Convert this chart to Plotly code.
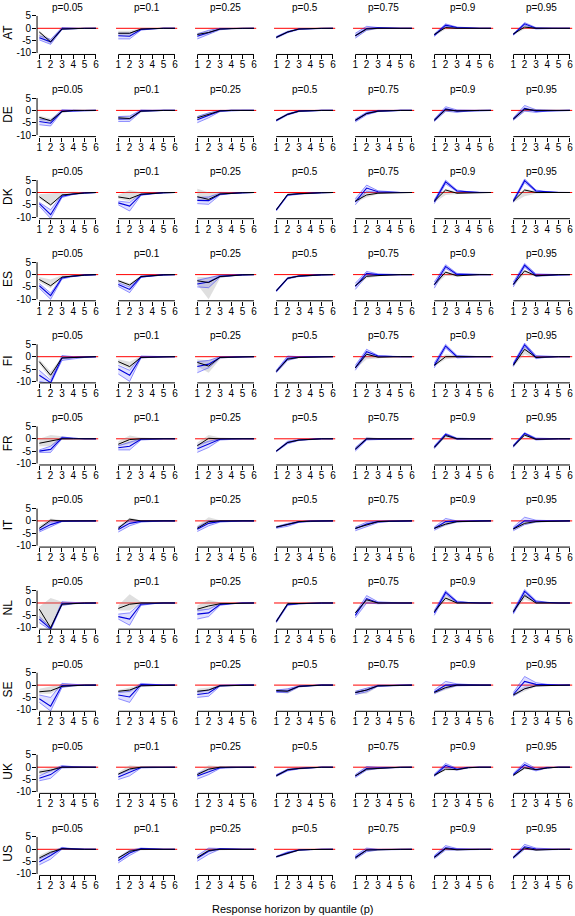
import plotly.graph_objects as go

# ---------------- data ----------------
countries = ["AT", "DE", "DK", "ES", "FI", "FR", "IT", "NL", "SE", "UK", "US"]
quantile_labels = ["p=0.05", "p=0.1", "p=0.25", "p=0.5", "p=0.75", "p=0.9", "p=0.95"]
horizons = [1, 2, 3, 4, 5, 6]
x_tick_vals = [1, 2, 3, 4, 5, 6]
y_tick_vals = [-10, -5, 0, 5]
y_tick_text = ["-10", "-5", "0", "5"]
x_title = "Response horizon by quantile (p)"

AT_black = [[-1.5,-5.5,-0.3,0,0,0],[-2.0,-2.0,-0.3,0,0,0],[-2.5,-1.7,-0.3,0,0,0],[-3.7,-1.5,-0.3,0,0,0],[-3.0,-0.3,0,0,0,0],[-2.5,0.3,0,0,0,0],[-2.3,0.5,0,0,0,0]]
AT_gray_lo = [[-3.5,-6.5,-0.8,-0.3,-0.1,-0.1],[-3.0,-3.0,-0.7,-0.2,-0.1,-0.1],[-3.2,-2.5,-0.6,-0.2,-0.1,-0.1],[-4.0,-1.9,-0.5,-0.2,-0.1,-0.1],[-3.6,-1.0,-0.4,-0.2,-0.1,-0.1],[-3.0,-0.5,-0.3,-0.2,-0.1,-0.1],[-2.8,-0.3,-0.3,-0.2,-0.1,-0.1]]
AT_gray_hi = [[-1.0,-4.5,0.4,0.2,0.1,0.1],[-1.0,-1.0,0.0,0.1,0.1,0.1],[-1.8,-0.9,0.0,0.1,0.1,0.1],[-3.3,-1.1,-0.1,0.1,0.1,0.1],[-2.4,0.3,0.3,0.1,0.1,0.1],[-2.0,1.0,0.3,0.1,0.1,0.1],[-1.8,1.2,0.3,0.1,0.1,0.1]]
AT_blue_lo = [[-4.7,-6.5,-0.5,-0.2,0,0],[-4.3,-4.3,-0.8,-0.2,0,0],[-4.3,-2.5,-0.6,-0.2,0,0],[-4.0,-1.8,-0.5,-0.2,0,0],[-4.0,-0.8,0.0,0,0,0],[-3.3,0.8,0.0,0,0,0],[-2.8,1.3,-0.3,0,0,0]]
AT_blue_mid = [[-3.8,-5.5,-0.2,-0.1,0,0],[-3.0,-3.2,-0.5,-0.1,0,0],[-3.2,-1.6,-0.3,-0.1,0,0],[-3.6,-1.5,-0.3,-0.1,0,0],[-3.0,-0.1,0.2,0,0,0],[-2.8,1.3,0.3,0.1,0,0],[-2.5,1.8,0.0,0,0,0]]
AT_blue_hi = [[-3.0,-4.5,0.3,0,0,0],[-2.0,-2.0,-0.3,0,0,0],[-2.3,-0.8,0.0,0,0,0],[-3.3,-1.2,-0.2,0,0,0],[-2.0,0.8,0.3,0.1,0,0],[-2.3,1.8,0.5,0.1,0,0],[-2.3,2.3,0.3,0.1,0,0]]

DE_black = [[-2.8,-4.2,-0.5,0,0,0],[-3.0,-3.3,-0.3,0,0,0],[-3.0,-1.5,-0.2,0,0,0],[-4.0,-1.6,-0.3,0,0,0],[-4.0,-1.3,-0.3,0,0,0],[-4.0,0.3,-0.2,0,0,0],[-3.5,0.5,0.0,0,0,0]]
DE_gray_lo = [[-4.0,-5.0,-1.0,-0.3,-0.1,-0.1],[-3.8,-4.0,-0.8,-0.2,-0.1,-0.1],[-3.8,-2.3,-0.6,-0.2,-0.1,-0.1],[-4.4,-2.0,-0.6,-0.2,-0.1,-0.1],[-4.6,-1.8,-0.6,-0.2,-0.1,-0.1],[-4.6,-0.5,-0.6,-0.2,-0.1,-0.1],[-4.2,-0.3,-0.5,-0.2,-0.1,-0.1]]
DE_gray_hi = [[-2.2,-3.3,0.0,0.1,0.1,0.1],[-2.3,-2.5,0.1,0.1,0.1,0.1],[-2.3,-0.8,0.1,0.1,0.1,0.1],[-3.6,-1.2,0.0,0.1,0.1,0.1],[-3.4,-0.8,0.0,0.1,0.1,0.1],[-3.4,1.0,0.2,0.1,0.1,0.1],[-2.9,1.2,0.4,0.1,0.1,0.1]]
DE_blue_lo = [[-5.8,-6.3,-0.6,-0.2,0,0],[-4.5,-4.5,-0.5,-0.1,0,0],[-5.0,-3.0,-0.5,-0.1,0,0],[-4.4,-1.9,-0.5,-0.1,0,0],[-4.7,-1.8,-0.5,-0.1,0,0],[-4.5,-0.3,-0.8,-0.2,0,0],[-4.0,-0.3,-0.8,-0.2,0,0]]
DE_blue_mid = [[-4.5,-5.2,-0.3,-0.1,0,0],[-3.5,-3.4,-0.2,0,0,0],[-3.8,-2.0,-0.2,0,0,0],[-4.1,-1.6,-0.3,0,0,0],[-4.1,-1.2,-0.3,0,0,0],[-4.0,0.6,-0.3,-0.1,0,0],[-3.5,0.8,-0.3,-0.1,0,0]]
DE_blue_hi = [[-3.5,-4.0,0.3,0,0,0],[-2.5,-2.3,0.2,0,0,0],[-2.5,-1.0,0.0,0,0,0],[-3.8,-1.3,-0.1,0,0,0],[-3.5,-0.7,0.0,0,0,0],[-3.5,1.5,0.2,0.1,0,0],[-3.0,2.0,0.3,0.1,0,0]]

DK_black = [[-1.7,-5.0,-1.0,-0.5,-0.2,0],[-1.8,-2.5,-0.7,-0.3,-0.1,0],[-1.7,-2.8,-0.6,-0.2,-0.1,0],[-7.0,-0.8,-0.5,-0.2,-0.1,0],[-3.5,-1.0,-0.3,-0.1,0,0],[-3.5,1.0,-0.3,-0.1,0,0],[-3.5,1.0,0.0,0,0,0]]
DK_gray_lo = [[-2.5,-5.5,-1.5,-0.8,-0.3,-0.1],[-2.5,-3.5,-1.0,-0.5,-0.2,-0.1],[-3.0,-3.5,-1.0,-0.4,-0.2,-0.1],[-7.3,-1.2,-0.7,-0.3,-0.2,-0.1],[-4.0,-2.0,-0.7,-0.3,-0.1,-0.1],[-4.0,-1.0,-0.7,-0.3,-0.1,-0.1],[-4.0,-1.5,-0.5,-0.3,-0.1,-0.1]]
DK_gray_hi = [[-0.7,-0.5,0.0,0.3,0.1,0.1],[-1.0,1.0,0.0,0.2,0.1,0.1],[1.5,0.0,0.3,0.2,0.1,0.1],[-6.7,-0.4,-0.3,0.0,0.1,0.1],[-2.5,0.3,0.3,0.2,0.1,0.1],[-2.5,1.5,0.2,0.2,0.1,0.1],[-2.5,1.5,0.5,0.2,0.1,0.1]]
DK_blue_lo = [[-5.5,-10.5,-2.0,-0.8,-0.3,-0.1],[-5.0,-7.5,-1.2,-0.5,-0.2,0],[-4.5,-4.8,-1.0,-0.4,-0.2,0],[-7.5,-1.3,-0.7,-0.3,-0.1,0],[-5.0,0.5,0.0,0,0,0],[-4.5,3.5,0.3,0,0,0],[-4.0,4.0,0.3,0,0,0]]
DK_blue_mid = [[-4.5,-9.0,-1.5,-0.6,-0.2,0],[-4.2,-5.5,-0.9,-0.4,-0.1,0],[-3.2,-3.3,-0.7,-0.3,-0.1,0],[-7.1,-1.0,-0.5,-0.2,-0.1,0],[-3.8,1.8,0.3,0.1,0,0],[-3.7,4.3,0.6,0.2,0,0],[-3.5,4.8,0.6,0.2,0,0]]
DK_blue_hi = [[-4.0,-7.0,-1.0,-0.4,-0.1,0],[-3.5,-4.0,-0.5,-0.2,0,0],[-2.0,-1.8,-0.3,-0.1,0,0],[-6.7,-0.8,-0.4,-0.1,0,0],[-2.5,3.0,0.7,0.2,0,0],[-3.0,5.0,1.0,0.3,0.1,0],[-3.0,5.5,1.0,0.3,0.1,0]]

ES_black = [[-2.0,-4.5,-1.0,-0.5,-0.2,0],[-2.5,-4.2,-0.8,-0.3,-0.1,0],[-2.5,-3.2,-0.8,-0.3,-0.1,0],[-6.5,-1.5,-0.6,-0.2,-0.1,0],[-4.5,-0.7,-0.4,-0.1,0,0],[-4.0,1.0,-0.5,-0.1,0,0],[-4.0,1.5,-0.5,-0.1,0,0]]
ES_gray_lo = [[-3.0,-5.5,-1.5,-0.7,-0.3,-0.1],[-3.0,-4.8,-1.1,-0.5,-0.2,-0.1],[-4.0,-10.0,-1.5,-0.5,-0.2,-0.1],[-6.8,-1.8,-0.8,-0.3,-0.1,-0.1],[-5.0,-1.5,-0.8,-0.3,-0.1,-0.1],[-4.5,-0.5,-0.8,-0.3,-0.1,-0.1],[-4.5,0.0,-0.8,-0.3,-0.1,-0.1]]
ES_gray_hi = [[-1.0,-2.0,-0.3,0.0,0.1,0.1],[-2.0,-3.5,-0.4,0.0,0.1,0.1],[-1.0,-1.0,0.0,0.1,0.1,0.1],[-6.2,-1.2,-0.4,0.0,0.1,0.1],[-4.0,0.0,0.0,0.1,0.1,0.1],[-3.5,1.5,-0.1,0.1,0.1,0.1],[-3.5,2.0,-0.2,0.1,0.1,0.1]]
ES_blue_lo = [[-5.5,-10.0,-1.8,-0.8,-0.3,-0.1],[-4.8,-7.3,-1.2,-0.5,-0.2,0],[-5.0,-5.3,-1.0,-0.4,-0.1,0],[-7.0,-1.8,-0.8,-0.3,-0.1,0],[-6.0,-0.5,-0.2,-0.1,0,0],[-5.5,2.5,-0.3,-0.1,0,0],[-5.0,3.0,-0.8,-0.3,-0.1,0]]
ES_blue_mid = [[-4.5,-8.5,-1.4,-0.6,-0.2,0],[-4.0,-6.0,-0.9,-0.4,-0.1,0],[-3.8,-3.0,-0.7,-0.3,-0.1,0],[-6.6,-1.5,-0.6,-0.2,-0.1,0],[-4.8,0.5,0.0,0,0,0],[-4.2,3.3,0.1,0,0,0],[-4.0,3.8,-0.3,-0.1,0,0]]
ES_blue_hi = [[-3.6,-7.5,-1.0,-0.4,-0.1,0],[-3.3,-5.0,-0.5,-0.2,0,0],[-2.3,-1.3,-0.3,-0.1,0,0],[-6.3,-1.2,-0.4,-0.1,0,0],[-3.5,1.3,0.3,0.1,0,0],[-3.0,4.0,0.5,0.1,0,0],[-3.0,4.5,0.3,0.1,0,0]]

FI_black = [[-2.0,-7.5,-0.5,-0.3,-0.1,0],[-2.0,-4.0,-0.3,-0.1,0,0],[-2.3,-3.8,-0.3,-0.1,0,0],[-6.0,-1.0,-0.3,-0.1,0,0],[-4.5,1.0,-0.2,0,0,0],[-3.5,0.0,0.0,0,0,0],[-3.5,3.0,-0.3,0,0,0]]
FI_gray_lo = [[-3.0,-9.0,-1.0,-0.5,-0.2,-0.1],[-3.0,-5.0,-0.8,-0.3,-0.1,-0.1],[-4.0,-6.5,-1.0,-0.3,-0.1,-0.1],[-6.5,-1.5,-0.6,-0.2,-0.1,-0.1],[-5.0,-1.0,-0.7,-0.2,-0.1,-0.1],[-4.0,-1.0,-0.5,-0.2,-0.1,-0.1],[-4.0,1.0,-0.8,-0.2,-0.1,-0.1]]
FI_gray_hi = [[-1.0,-6.0,0.0,0.0,0.1,0.1],[-1.0,-2.0,0.2,0.1,0.1,0.1],[-1.0,-1.5,0.0,0.1,0.1,0.1],[-5.5,-0.5,0.0,0.1,0.1,0.1],[-4.0,1.5,0.3,0.1,0.1,0.1],[-2.5,1.0,0.5,0.2,0.1,0.1],[-3.0,4.0,0.3,0.2,0.1,0.1]]
FI_blue_lo = [[-10.0,-11.0,-1.5,-0.8,-0.3,-0.1],[-7.0,-10.0,-0.5,-0.2,0,0],[-6.5,-4.5,-0.5,-0.2,0,0],[-6.5,-1.5,-0.3,-0.1,0,0],[-5.5,1.0,0.0,0,0,0],[-4.5,3.5,-0.5,-0.1,0,0],[-4.0,4.0,-0.8,-0.2,0,0]]
FI_blue_mid = [[-7.5,-10.5,-0.5,-0.4,-0.1,0],[-5.0,-7.5,-0.2,-0.1,0,0],[-4.0,-3.0,-0.3,-0.1,0,0],[-6.0,-0.6,-0.2,0,0,0],[-4.5,2.0,0.3,0.1,0,0],[-3.5,4.3,0.0,0,0,0],[-3.2,4.8,-0.2,0,0,0]]
FI_blue_hi = [[-5.5,-9.5,0.5,0,0,0],[-3.5,-5.5,0.3,0.1,0,0],[-2.0,-1.5,0.0,0,0,0],[-5.5,0.3,0.0,0,0,0],[-3.5,3.0,0.5,0.2,0,0],[-2.5,5.0,0.5,0.2,0,0],[-2.5,5.5,0.5,0.2,0,0]]

FR_black = [[-1.8,-1.0,0.0,0,0,0],[-2.2,-0.3,0.0,0,0,0],[-2.8,0.2,0.0,0,0,0],[-5.0,-1.5,-0.5,-0.2,0,0],[-4.2,0.0,0.0,0,0,0],[-3.5,1.3,0.0,0,0,0],[-3.0,1.5,-0.2,0,0,0]]
FR_gray_lo = [[-3.0,-3.0,-0.5,-0.2,-0.1,-0.1],[-3.0,-2.0,-0.5,-0.2,-0.1,-0.1],[-3.5,-1.5,-0.5,-0.2,-0.1,-0.1],[-5.3,-1.8,-0.7,-0.3,-0.1,-0.1],[-4.7,-0.5,-0.4,-0.2,-0.1,-0.1],[-4.0,0.5,-0.4,-0.2,-0.1,-0.1],[-3.5,0.8,-0.5,-0.2,-0.1,-0.1]]
FR_gray_hi = [[0.0,1.5,1.0,0.3,0.1,0.1],[-1.0,1.3,0.5,0.2,0.1,0.1],[-1.5,1.5,0.5,0.2,0.1,0.1],[-4.7,-1.2,-0.3,0.0,0.1,0.1],[-3.7,0.8,0.3,0.1,0.1,0.1],[-3.0,2.0,0.3,0.1,0.1,0.1],[-2.5,2.2,0.2,0.1,0.1,0.1]]
FR_blue_lo = [[-5.5,-5.5,0.0,0,0,0],[-4.5,-4.5,-0.5,-0.1,0,0],[-5.5,-3.5,-0.5,-0.1,0,0],[-5.3,-2.0,-0.7,-0.2,0,0],[-5.0,-0.5,-0.3,-0.1,0,0],[-4.0,1.3,-0.3,-0.1,0,0],[-3.5,1.8,-0.5,-0.1,0,0]]
FR_blue_mid = [[-5.0,-4.3,0.4,0.1,0,0],[-3.6,-3.0,-0.2,0,0,0],[-4.0,-2.2,-0.2,0,0,0],[-5.0,-1.5,-0.5,-0.1,0,0],[-4.3,-0.1,-0.1,0,0,0],[-3.4,1.8,0.0,0,0,0],[-3.0,2.2,-0.1,0,0,0]]
FR_blue_hi = [[-4.5,-3.0,0.8,0.2,0,0],[-2.8,-1.5,0.0,0,0,0],[-2.5,-1.0,0.0,0,0,0],[-4.8,-1.0,-0.3,0,0,0],[-3.5,0.3,0.0,0,0,0],[-2.8,2.2,0.3,0.1,0,0],[-2.5,2.5,0.3,0.1,0,0]]

IT_black = [[-3.0,0.3,0.0,0,0,0],[-3.0,0.7,0.0,0,0,0],[-3.0,-0.3,0.0,0,0,0],[-2.5,-1.5,-0.3,-0.1,0,0],[-3.0,-1.5,-0.3,-0.1,0,0],[-3.0,-1.3,-0.3,-0.1,0,0],[-3.3,-1.0,-0.3,-0.1,0,0]]
IT_gray_lo = [[-3.5,-0.5,-0.3,-0.2,-0.1,-0.1],[-3.5,0.0,-0.3,-0.2,-0.1,-0.1],[-3.5,-1.0,-0.3,-0.2,-0.1,-0.1],[-2.9,-1.9,-0.5,-0.2,-0.1,-0.1],[-3.5,-2.0,-0.6,-0.2,-0.1,-0.1],[-3.5,-2.0,-0.6,-0.2,-0.1,-0.1],[-3.8,-1.7,-0.6,-0.2,-0.1,-0.1]]
IT_gray_hi = [[-2.0,1.0,0.3,0.1,0.1,0.1],[-2.3,1.3,0.3,0.1,0.1,0.1],[-2.0,1.5,0.3,0.1,0.1,0.1],[-2.1,-1.1,-0.1,0.0,0.1,0.1],[-2.5,-1.0,0.0,0.1,0.1,0.1],[-2.5,-0.5,0.0,0.1,0.1,0.1],[-2.8,-0.3,0.0,0.1,0.1,0.1]]
IT_blue_lo = [[-4.5,-2.5,-0.3,-0.1,0,0],[-4.5,-2.0,-0.5,-0.1,0,0],[-4.3,-2.0,-0.5,-0.1,0,0],[-3.0,-2.2,-0.6,-0.2,0,0],[-4.0,-2.2,-0.7,-0.2,0,0],[-3.8,-1.5,-0.5,-0.1,0,0],[-4.0,-1.5,-0.5,-0.1,0,0]]
IT_blue_mid = [[-3.8,-1.5,-0.1,0,0,0],[-3.5,-1.0,-0.2,0,0,0],[-3.4,-1.0,-0.2,0,0,0],[-2.6,-1.6,-0.4,-0.1,0,0],[-3.2,-1.3,-0.3,-0.1,0,0],[-3.1,-0.3,-0.2,0,0,0],[-3.2,0.0,-0.1,0,0,0]]
IT_blue_hi = [[-3.0,-0.5,0.0,0,0,0],[-2.5,0.0,0.0,0,0,0],[-2.5,0.0,0.0,0,0,0],[-2.3,-1.0,-0.2,0,0,0],[-2.5,-0.5,0.0,0,0,0],[-2.5,1.0,0.0,0,0,0],[-2.5,1.5,0.3,0.1,0,0]]

NL_black = [[-2.5,-10.0,-0.5,-0.2,0,0],[-2.2,-0.5,0.0,0,0,0],[-2.5,-1.2,-0.3,-0.1,0,0],[-7.5,-0.3,-0.2,0,0,0],[-4.0,1.3,0.0,0,0,0],[-3.5,2.0,0.0,0,0,0],[-3.5,3.0,0.0,0,0,0]]
NL_gray_lo = [[-7.0,-10.0,-1.0,-0.4,-0.1,-0.1],[-3.0,-3.0,-0.5,-0.2,-0.1,-0.1],[-3.5,-2.5,-0.5,-0.2,-0.1,-0.1],[-7.8,-1.0,-0.4,-0.2,-0.1,-0.1],[-4.5,0.0,-0.4,-0.2,-0.1,-0.1],[-4.0,1.0,-0.3,-0.2,-0.1,-0.1],[-4.0,1.5,-0.3,-0.2,-0.1,-0.1]]
NL_gray_hi = [[-1.5,2.0,0.5,0.2,0.1,0.1],[-1.0,3.5,0.5,0.2,0.1,0.1],[-1.0,1.2,0.3,0.2,0.1,0.1],[-7.2,0.5,0.0,0.1,0.1,0.1],[-3.5,1.8,0.3,0.1,0.1,0.1],[-3.0,3.0,0.3,0.1,0.1,0.1],[-3.0,4.0,0.3,0.1,0.1,0.1]]
NL_blue_lo = [[-8.0,-11.0,-1.0,-0.3,-0.1,0],[-6.5,-9.0,-1.0,-0.3,0,0],[-6.5,-5.5,-1.0,-0.3,0,0],[-8.0,-1.0,-0.3,-0.1,0,0],[-6.0,0.0,-0.3,-0.1,0,0],[-5.0,3.5,0.0,0,0,0],[-4.5,3.5,0.0,0,0,0]]
NL_blue_mid = [[-6.5,-10.5,-0.3,-0.1,0,0],[-5.5,-6.5,-0.5,-0.1,0,0],[-4.5,-4.0,-0.6,-0.2,0,0],[-7.5,-0.6,-0.3,0,0,0],[-5.0,1.8,0.1,0,0,0],[-4.0,4.3,0.4,0.1,0,0],[-3.8,4.7,0.5,0.1,0,0]]
NL_blue_hi = [[-5.5,-10.0,0.5,0.1,0,0],[-4.5,-4.0,0.0,0,0,0],[-3.0,-2.5,-0.3,-0.1,0,0],[-7.0,-0.3,-0.2,0,0,0],[-4.0,3.0,0.5,0.1,0,0],[-3.0,5.0,0.8,0.2,0,0],[-3.0,5.5,1.0,0.2,0,0]]

SE_black = [[-2.7,-2.3,-0.5,-0.2,0,0],[-2.5,-2.0,-0.3,-0.1,0,0],[-2.5,-2.0,-0.3,-0.1,0,0],[-2.2,-2.5,-0.5,-0.2,0,0],[-3.0,-2.0,-0.3,-0.1,0,0],[-3.0,-1.0,0.0,0,0,0],[-4.0,-1.5,-0.3,-0.1,0,0]]
SE_gray_lo = [[-3.5,-3.5,-1.0,-0.3,-0.1,-0.1],[-3.0,-3.0,-0.6,-0.2,-0.1,-0.1],[-3.5,-2.5,-0.6,-0.2,-0.1,-0.1],[-2.8,-3.5,-0.8,-0.3,-0.1,-0.1],[-3.8,-3.5,-0.7,-0.3,-0.1,-0.1],[-3.5,-2.0,-0.5,-0.2,-0.1,-0.1],[-4.5,-2.5,-0.7,-0.2,-0.1,-0.1]]
SE_gray_hi = [[-1.5,-0.5,0.3,0.1,0.1,0.1],[-2.0,-1.0,0.0,0.1,0.1,0.1],[-1.5,-1.0,0.0,0.1,0.1,0.1],[-1.7,-1.5,-0.2,0.0,0.1,0.1],[-2.3,-1.0,0.0,0.1,0.1,0.1],[-2.5,0.0,0.3,0.1,0.1,0.1],[-3.5,-0.5,0.2,0.1,0.1,0.1]]
SE_blue_lo = [[-7.0,-10.5,-1.0,-0.3,-0.1,0],[-5.5,-7.0,-0.3,-0.1,0,0],[-5.0,-4.5,-0.5,-0.1,0,0],[-3.0,-3.0,-0.8,-0.2,0,0],[-3.8,-2.7,-0.5,-0.1,0,0],[-3.5,-1.3,-0.3,-0.1,0,0],[-4.5,-1.5,-0.3,-0.1,0,0]]
SE_blue_mid = [[-5.5,-8.5,-0.2,-0.1,0,0],[-4.0,-4.8,0.2,0,0,0],[-3.8,-3.2,-0.2,0,0,0],[-2.5,-2.3,-0.5,-0.1,0,0],[-3.1,-2.0,-0.3,-0.1,0,0],[-2.8,0.0,0.1,0,0,0],[-3.8,1.5,0.3,0.1,0,0]]
SE_blue_hi = [[-4.0,-5.0,0.7,0.2,0,0],[-3.0,-2.5,0.7,0.2,0,0],[-2.8,-2.0,0.0,0,0,0],[-2.0,-1.5,-0.3,0,0,0],[-2.5,-1.2,0.0,0,0,0],[-2.0,1.5,0.5,0.1,0,0],[-3.0,3.5,1.0,0.3,0.1,0]]

UK_black = [[-2.0,-1.2,0.0,0,0,0],[-2.8,-0.7,0.0,0,0,0],[-3.0,-0.8,0.0,0,0,0],[-3.5,-1.0,-0.5,-0.2,0,0],[-3.5,-0.8,-0.5,-0.2,0,0],[-3.3,-0.8,-1.0,-0.2,0,0],[-3.3,-0.3,-1.0,-0.3,0,0]]
UK_gray_lo = [[-3.0,-2.0,-0.4,-0.2,-0.1,-0.1],[-3.3,-1.5,-0.4,-0.2,-0.1,-0.1],[-3.5,-1.5,-0.4,-0.2,-0.1,-0.1],[-3.9,-1.4,-0.8,-0.3,-0.1,-0.1],[-4.0,-1.3,-0.8,-0.3,-0.1,-0.1],[-3.8,-1.3,-1.3,-0.4,-0.1,-0.1],[-3.8,-0.8,-1.3,-0.5,-0.1,-0.1]]
UK_gray_hi = [[-1.0,-0.3,0.3,0.1,0.1,0.1],[-2.0,0.8,0.3,0.1,0.1,0.1],[-2.3,0.8,0.3,0.1,0.1,0.1],[-3.1,-0.6,-0.2,0.0,0.1,0.1],[-3.0,0.0,-0.2,0.0,0.1,0.1],[-2.8,-0.3,-0.7,0.0,0.1,0.1],[-2.8,0.2,-0.7,0.0,0.1,0.1]]
UK_blue_lo = [[-5.5,-4.5,-0.3,-0.1,0,0],[-5.0,-3.5,-0.3,-0.1,0,0],[-4.8,-3.0,-0.5,-0.1,0,0],[-3.8,-1.5,-0.7,-0.2,0,0],[-4.2,-1.2,-0.6,-0.2,0,0],[-3.8,0.0,-1.2,-0.3,0,0],[-3.5,0.0,-1.5,-0.3,0,0]]
UK_blue_mid = [[-4.5,-3.0,0.2,0.1,0,0],[-4.0,-2.2,-0.1,0,0,0],[-3.6,-1.9,-0.2,0,0,0],[-3.4,-1.1,-0.5,-0.1,0,0],[-3.6,-0.5,-0.3,-0.1,0,0],[-3.3,0.7,-0.8,-0.1,0,0],[-3.0,1.0,-1.0,-0.2,0,0]]
UK_blue_hi = [[-3.5,-1.5,0.7,0.2,0,0],[-3.0,-1.0,0.0,0,0,0],[-2.5,-0.8,0.0,0,0,0],[-3.0,-0.7,-0.3,0,0,0],[-3.0,0.3,0.0,0,0,0],[-2.8,1.5,-0.5,0,0,0],[-2.5,2.0,-0.5,0,0,0]]

US_black = [[-3.5,-1.2,0.2,0,0,0],[-3.5,-0.8,0.0,0,0,0],[-3.3,-0.5,0.0,0,0,0],[-3.0,-1.5,-0.3,-0.1,0,0],[-3.5,-0.3,-0.2,0,0,0],[-3.3,0.3,-0.2,0,0,0],[-3.3,0.5,-0.3,0,0,0]]
US_gray_lo = [[-4.0,-2.0,-0.3,-0.2,-0.1,-0.1],[-4.0,-1.5,-0.4,-0.2,-0.1,-0.1],[-3.8,-1.2,-0.4,-0.2,-0.1,-0.1],[-3.3,-1.8,-0.5,-0.2,-0.1,-0.1],[-4.0,-1.0,-0.5,-0.2,-0.1,-0.1],[-3.8,-0.3,-0.5,-0.2,-0.1,-0.1],[-3.8,0.0,-0.6,-0.2,-0.1,-0.1]]
US_gray_hi = [[-2.5,-0.3,0.6,0.2,0.1,0.1],[-3.0,0.0,0.3,0.1,0.1,0.1],[-2.8,0.3,0.3,0.1,0.1,0.1],[-2.7,-1.2,-0.1,0.0,0.1,0.1],[-3.0,0.3,0.1,0.1,0.1,0.1],[-2.8,0.9,0.1,0.1,0.1,0.1],[-2.8,1.0,0.0,0.1,0.1,0.1]]
US_blue_lo = [[-6.3,-4.0,0.0,-0.1,0,0],[-5.5,-2.5,0.0,-0.1,0,0],[-4.8,-2.0,0.0,-0.1,0,0],[-3.3,-1.8,-0.4,-0.1,0,0],[-4.0,-1.0,-0.3,-0.1,0,0],[-3.8,-0.3,-0.3,-0.1,0,0],[-3.8,0.0,-0.3,-0.1,0,0]]
US_blue_mid = [[-5.0,-2.5,0.4,0.1,0,0],[-4.5,-1.5,0.3,0,0,0],[-3.6,-0.8,0.2,0,0,0],[-3.0,-1.4,-0.3,0,0,0],[-3.2,-0.3,-0.1,0,0,0],[-3.1,0.6,0.0,0,0,0],[-3.4,1.0,0.1,0,0,0]]
US_blue_hi = [[-4.0,-1.5,0.8,0.2,0,0],[-3.5,-0.5,0.5,0.1,0,0],[-2.5,0.5,0.3,0.1,0,0],[-2.8,-1.0,-0.2,0,0,0],[-2.5,0.5,0.0,0,0,0],[-2.5,1.5,0.3,0.1,0,0],[-3.0,2.0,0.5,0.1,0,0]]

series = {
    "AT": (AT_black, AT_gray_lo, AT_gray_hi, AT_blue_lo, AT_blue_mid, AT_blue_hi),
    "DE": (DE_black, DE_gray_lo, DE_gray_hi, DE_blue_lo, DE_blue_mid, DE_blue_hi),
    "DK": (DK_black, DK_gray_lo, DK_gray_hi, DK_blue_lo, DK_blue_mid, DK_blue_hi),
    "ES": (ES_black, ES_gray_lo, ES_gray_hi, ES_blue_lo, ES_blue_mid, ES_blue_hi),
    "FI": (FI_black, FI_gray_lo, FI_gray_hi, FI_blue_lo, FI_blue_mid, FI_blue_hi),
    "FR": (FR_black, FR_gray_lo, FR_gray_hi, FR_blue_lo, FR_blue_mid, FR_blue_hi),
    "IT": (IT_black, IT_gray_lo, IT_gray_hi, IT_blue_lo, IT_blue_mid, IT_blue_hi),
    "NL": (NL_black, NL_gray_lo, NL_gray_hi, NL_blue_lo, NL_blue_mid, NL_blue_hi),
    "SE": (SE_black, SE_gray_lo, SE_gray_hi, SE_blue_lo, SE_blue_mid, SE_blue_hi),
    "UK": (UK_black, UK_gray_lo, UK_gray_hi, UK_blue_lo, UK_blue_mid, UK_blue_hi),
    "US": (US_black, US_gray_lo, US_gray_hi, US_blue_lo, US_blue_mid, US_blue_hi),
}

# ---------------- layout geometry (window pixels) ----------------
W, H = 575, 916
COL0, COL_STEP, XUNIT = 39.3, 79.0, 11.33
ROW0, ROW_STEP, YUNIT = 28.3, 82.1, 2.47
XR = [0.8, 6.2]
YR = [-10.6, 5.6]
FONT = "Liberation Sans, Arial, Helvetica, sans-serif"


def px(k, v):
    return COL0 + COL_STEP * k + (v - 1) * XUNIT


def py(r, v):
    return ROW0 + ROW_STEP * r - v * YUNIT


def fx(p):
    return p / W


def fy(p):
    return 1 - p / H


fig = go.Figure()
layout = dict(
    width=W, height=H, autosize=False,
    margin=dict(l=0, r=0, t=0, b=0, pad=0),
    paper_bgcolor="white", plot_bgcolor="white",
    template="none", showlegend=False, hovermode=False,
    font=dict(family=FONT, size=10, color="black"),
)
shapes = []
annotations = []

for r, c in enumerate(countries):
    blk, glo, ghi, blo, bmid, bhi = series[c]
    for k, qlab in enumerate(quantile_labels):
        n = r * 7 + k + 1
        sfx = "" if n == 1 else str(n)
        xa, ya = "x" + sfx, "y" + sfx
        h = horizons
        fig.add_trace(go.Scatter(x=h + h[::-1], y=ghi[k] + glo[k][::-1], fill="toself",
                                 fillcolor="rgba(150,150,150,0.30)", line=dict(width=0),
                                 mode="lines", hoverinfo="skip", xaxis=xa, yaxis=ya))
        fig.add_trace(go.Scatter(x=h + h[::-1], y=bhi[k] + blo[k][::-1], fill="toself",
                                 fillcolor="rgba(40,40,255,0.15)", line=dict(width=0),
                                 mode="lines", hoverinfo="skip", xaxis=xa, yaxis=ya))
        fig.add_trace(go.Scatter(x=h + [None] + h, y=blo[k] + [None] + bhi[k], mode="lines",
                                 line=dict(color="rgba(0,0,255,0.5)", width=0.8),
                                 hoverinfo="skip", xaxis=xa, yaxis=ya))
        fig.add_trace(go.Scatter(x=h, y=bmid[k], mode="lines",
                                 line=dict(color="#0000dc", width=1.1),
                                 hoverinfo="skip", xaxis=xa, yaxis=ya))
        fig.add_trace(go.Scatter(x=h, y=blk[k], mode="lines",
                                 line=dict(color="black", width=1),
                                 hoverinfo="skip", xaxis=xa, yaxis=ya))

        xdom = [fx(px(k, XR[0])), fx(px(k, XR[1]))]
        ydom = [fy(py(r, YR[0])), fy(py(r, YR[1]))]
        layout["xaxis" + sfx] = dict(
            domain=xdom, range=XR, anchor=ya, tickmode="array",
            tickvals=x_tick_vals, ticktext=[str(v) for v in x_tick_vals],
            ticks="outside", ticklen=4, tickwidth=1, tickcolor="black",
            ticklabelstandoff=-3,
            tickfont=dict(size=10, family=FONT, color="black"),
            showline=False, showgrid=False, zeroline=False, fixedrange=True,
        )
        yax = dict(domain=ydom, range=YR, anchor=xa, showline=False, showgrid=False,
                   zeroline=False, fixedrange=True)
        if k == 0:
            yax.update(tickmode="array", tickvals=y_tick_vals, ticktext=y_tick_text,
                       ticks="outside", ticklen=4, tickwidth=1, tickcolor="black",
                       ticklabelstandoff=-1,
                       tickfont=dict(size=10, family=FONT, color="black"))
            shapes.append(dict(type="line", xref=xa + " domain", x0=0, x1=0,
                               yref=ya, y0=y_tick_vals[0], y1=y_tick_vals[-1],
                               line=dict(color="black", width=1), layer="above"))
        else:
            yax.update(showticklabels=False, ticks="")
        layout["yaxis" + sfx] = yax

        shapes.append(dict(type="line", xref=xa + " domain", x0=0, x1=1, yref=ya, y0=0, y1=0,
                           line=dict(color="red", width=1), layer="below"))
        shapes.append(dict(type="line", xref=xa, x0=x_tick_vals[0], x1=x_tick_vals[-1],
                           yref="paper", y0=ydom[0], y1=ydom[0],
                           line=dict(color="black", width=1), layer="above"))
        annotations.append(dict(text=qlab, xref="paper", yref="paper",
                                x=fx(px(k, 3.5)), y=fy(py(r, YR[1]) - 7.2),
                                xanchor="center", yanchor="middle", showarrow=False,
                                font=dict(size=10, family=FONT, color="black")))
    annotations.append(dict(text=c, xref="paper", yref="paper", x=fx(8), y=fy(py(r, -1.8)),
                            xanchor="center", yanchor="middle", textangle=-90, showarrow=False,
                            font=dict(size=12, family=FONT, color="black")))

annotations.append(dict(text=x_title, xref="paper", yref="paper", x=fx(292), y=fy(909),
                        xanchor="center", yanchor="middle", showarrow=False,
                        font=dict(size=11, family=FONT, color="black")))

layout["shapes"] = shapes
layout["annotations"] = annotations
fig.update_layout(**layout)
fig.write_html(
    "out.html",
    config={"displayModeBar": False, "staticPlot": True},
    post_script="document.body.style.margin='0px';document.body.style.overflow='hidden';",
)
